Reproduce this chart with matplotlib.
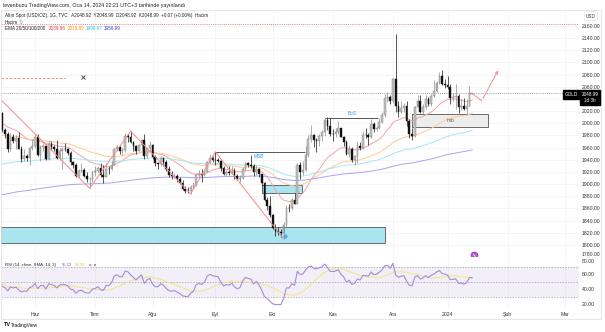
import numpy as np
import pandas as pd
import matplotlib
matplotlib.use('Agg')
import matplotlib.pyplot as plt
from matplotlib.patches import Rectangle

plt.rcParams['font.family'] = ['Liberation Sans', 'DejaVu Sans']

# daily OHLC, 15 May 2023 .. 15 Jan 2024
opens = [2011, 2017, 1989, 1982, 1958, 1978, 1971, 1975, 1958, 1941,
         1946, 1943, 1959, 1963, 1978, 1948, 1961, 1963, 1941, 1966,
         1961, 1957, 1943, 1955, 1958, 1957, 1951, 1936, 1932, 1913,
         1921, 1923, 1913, 1908, 1909, 1919, 1921, 1926, 1915, 1911,
         1925, 1924, 1932, 1957, 1961, 1955, 1956, 1979, 1977, 1969,
         1962, 1955, 1965, 1972, 1946, 1959, 1965, 1944, 1934, 1933,
         1943, 1937, 1925, 1915, 1913, 1914, 1908, 1902, 1892, 1889,
         1888, 1895, 1899, 1915, 1917, 1915, 1920, 1937, 1943, 1940,
         1939, 1938, 1926, 1916, 1919, 1918, 1922, 1913, 1908, 1910,
         1924, 1934, 1931, 1930, 1919, 1925, 1916, 1901, 1874, 1864,
         1849, 1828, 1822, 1821, 1820, 1833, 1861, 1860, 1874, 1868,
         1932, 1920, 1923, 1947, 1974, 1981, 1973, 1971, 1979, 1985,
         2006, 1996, 1983, 1982, 1985, 1992, 1978, 1969, 1950, 1958,
         1940, 1946, 1963, 1959, 1981, 1980, 1978, 1999, 1990, 1992,
         2002, 2014, 2041, 2044, 2036, 2072, 2029, 2019, 2025, 2028,
         2004, 1982, 1979, 2027, 2036, 2019, 2027, 2040, 2031, 2045,
         2053, 2067, 2077, 2065, 2063, 2059, 2041, 2043, 2045, 2027,
         2028, 2024, 2029, 2048.92]
highs = [2022, 2019, 1993, 1985, 1984, 1983, 1980, 1985, 1963, 1957,
         1950, 1961, 1974, 1983, 1983, 1965, 1967, 1966, 1972, 1970,
         1964, 1972, 1959, 1961, 1968, 1960, 1954, 1938, 1934, 1925,
         1934, 1927, 1919, 1912, 1922, 1930, 1929, 1935, 1931, 1935,
         1930, 1938, 1960, 1964, 1963, 1960, 1984, 1983, 1987, 1970,
         1964, 1966, 1974, 1982, 1960, 1970, 1966, 1947, 1937, 1946,
         1944, 1939, 1929, 1922, 1918, 1916, 1911, 1906, 1896, 1895,
         1899, 1903, 1918, 1923, 1924, 1923, 1938, 1949, 1946, 1953,
         1943, 1940, 1929, 1923, 1929, 1930, 1926, 1917, 1915, 1928,
         1937, 1937, 1947, 1933, 1931, 1926, 1917, 1903, 1879, 1880,
         1850, 1835, 1829, 1826, 1837, 1865, 1867, 1877, 1885, 1934,
         1937, 1938, 1962, 1980, 1997, 1982, 1975, 1983, 1989, 2009,
         2010, 2008, 1990, 1993, 2004, 1993, 1979, 1972, 1964, 1961,
         1947, 1971, 1969, 1987, 1993, 1984, 2007, 2002, 1996, 2009,
         2018, 2048, 2052, 2047, 2075, 2146, 2037, 2036, 2033, 2036,
         2007, 1993, 2029, 2047, 2047, 2032, 2047, 2043, 2048, 2071,
         2070, 2084, 2088, 2073, 2078, 2065, 2050, 2064, 2048, 2040,
         2041, 2040, 2062, 2048.99]
lows = [2008, 1985, 1975, 1952, 1954, 1967, 1958, 1957, 1936, 1938,
        1938, 1932, 1956, 1960, 1946, 1938, 1954, 1940, 1940, 1956,
        1954, 1942, 1939, 1925, 1954, 1947, 1931, 1926, 1912, 1910,
        1919, 1911, 1903, 1893, 1903, 1913, 1919, 1912, 1902, 1911,
        1917, 1923, 1931, 1955, 1950, 1948, 1952, 1969, 1967, 1955,
        1949, 1954, 1956, 1942, 1943, 1955, 1941, 1929, 1925, 1929,
        1930, 1922, 1912, 1909, 1910, 1903, 1900, 1891, 1885, 1885,
        1884, 1893, 1896, 1910, 1904, 1914, 1919, 1935, 1937, 1931,
        1936, 1922, 1915, 1914, 1915, 1916, 1908, 1906, 1901, 1908,
        1922, 1928, 1926, 1913, 1915, 1912, 1897, 1872, 1858, 1846,
        1826, 1815, 1816, 1813, 1810, 1830, 1854, 1858, 1867, 1868,
        1908, 1915, 1922, 1944, 1969, 1961, 1953, 1962, 1970, 1979,
        1989, 1979, 1970, 1978, 1983, 1977, 1963, 1947, 1945, 1937,
        1931, 1935, 1956, 1957, 1975, 1965, 1975, 1985, 1988, 1990,
        2001, 2011, 2035, 2031, 2034, 2018, 2010, 2017, 2018, 1995,
        1976, 1973, 1977, 2026, 2017, 2015, 2024, 2028, 2029, 2044,
        2052, 2064, 2063, 2058, 2056, 2031, 2037, 2024, 2017, 2022,
        2021, 2013, 2028, 2048.92]
closes = [2017, 1989, 1982, 1958, 1978, 1971, 1975, 1958, 1941, 1946,
          1943, 1959, 1963, 1978, 1948, 1961, 1963, 1941, 1966, 1961,
          1957, 1943, 1955, 1958, 1957, 1951, 1936, 1932, 1913, 1921,
          1923, 1913, 1908, 1909, 1919, 1921, 1926, 1915, 1911, 1925,
          1924, 1932, 1957, 1961, 1955, 1956, 1979, 1977, 1969, 1962,
          1955, 1965, 1972, 1946, 1959, 1965, 1944, 1934, 1933, 1943,
          1937, 1925, 1915, 1913, 1914, 1908, 1902, 1892, 1889, 1888,
          1895, 1899, 1915, 1917, 1915, 1920, 1937, 1943, 1940, 1939,
          1938, 1926, 1916, 1919, 1918, 1922, 1913, 1908, 1910, 1924,
          1934, 1931, 1930, 1919, 1925, 1916, 1901, 1874, 1864, 1849,
          1828, 1822, 1821, 1820, 1833, 1861, 1860, 1874, 1868, 1932,
          1920, 1923, 1947, 1974, 1981, 1973, 1971, 1979, 1985, 2006,
          1996, 1983, 1982, 1985, 1992, 1978, 1969, 1950, 1958, 1940,
          1946, 1963, 1959, 1981, 1980, 1978, 1999, 1990, 1992, 2002,
          2014, 2041, 2044, 2036, 2072, 2029, 2019, 2025, 2028, 2004,
          1982, 1979, 2027, 2036, 2019, 2027, 2040, 2031, 2045, 2053,
          2067, 2077, 2065, 2063, 2059, 2041, 2043, 2045, 2027, 2028,
          2024, 2029, 2049, 2048.99]

# EMA start levels carried in from before the first bar
ema_periods = [20, 50, 100, 200]
ema_seeds = [1998, 1978, 1930, 1880]
ema_colors = ['#f7a1a1', '#ffc999', '#a5e8f2', '#a9a3f0']
ema_text_colors = ['#f23645', '#ff9800', '#22c4e0', '#3d3dd6']
ema_labels = ['2039.96', '2019.89', '1998.67', '1956.99']

rsi_seed_gain, rsi_seed_loss = 8.0, 8.5
rsi_labels = ['55.12', '54.95']

month_names = {6: 'Haz', 7: 'Tem', 8: 'Ağu', 9: 'Eyl', 10: 'Eki', 11: 'Kas',
               12: 'Ara', 1: '2024', 2: 'Şub', 3: 'Mar'}

# swing pivots joined by the zigzag
zz_start = (-2, 2050)
zz_bars = [33, 48, 70, 79, 104]
zz_kind = ['L', 'H', 'L', 'H', 'L']
proj_bars = [173, 176.5, 183]
proj_prices = [2049, 2037, 2091]

W, H = 605, 332
fig = plt.figure(figsize=(W / 100, H / 100), dpi=100)
fig.patch.set_facecolor('white')


def box(x0, y0, x1, y1):
    return [x0 / W, 1 - y1 / H, (x1 - x0) / W, (y1 - y0) / H]


ax = fig.add_axes(box(1, 12, 579, 257))
ax_rsi = fig.add_axes(box(1, 257, 579, 308), sharex=ax)

n = len(closes)
x = np.arange(n)
o = np.array(opens, float)
h = np.array(highs, float)
l = np.array(lows, float)
c = np.array(closes, float)

dates = pd.bdate_range('2023-05-15', '2024-03-29')
dates = dates[~dates.isin(pd.to_datetime(['2023-12-25', '2024-01-01']))]
mpos = [i for i in range(1, len(dates)) if dates[i].month != dates[i - 1].month]
mlab = [month_names[dates[i].month] for i in mpos]

for a in (ax, ax_rsi):
    for s in a.spines.values():
        s.set_visible(False)
    a.set_facecolor('white')
    a.yaxis.tick_right()
    a.tick_params(length=0, labelsize=3.7, labelcolor='#333333', pad=2.2)
    a.set_xticks(mpos)
    a.grid(color='#f1f2f6', lw=0.5)
    a.set_axisbelow(True)
ax.tick_params(labelbottom=False)
ax_rsi.set_xticklabels(mlab)
ax_rsi.tick_params(axis='x', pad=3)
ax.set_xlim(0.55, 212.1)

# price scale (the 2040 label sits under the last-price tag)
ax.set_ylim(1780, 2183)
pt = list(range(1780, 2161, 20))
ax.set_yticks(pt)
ax.set_yticklabels(['' if v == 2040 else f'{v:.2f}' for v in pt])
ax.get_yticklabels()[0].set_verticalalignment('bottom')

# zones
ax.add_patch(Rectangle((0.5, 1803), 140.6, 26, fc='#a9e5ee', ec='#555555', lw=0.6, zorder=1))
ax.add_patch(Rectangle((96.1, 1885), 14.6, 13.5, fc='#a9e5ee', ec='#555555', lw=0.6, zorder=1))
ax.add_patch(Rectangle((151, 1994), 27.8, 21, fc='#ededed', ec='#555555', lw=0.6, zorder=1))
ax.text(165, 2004.5, 'imb', fontsize=3.4, color='#555555', ha='center', va='center', zorder=6)

# EMAs
for per, seed, col in zip(ema_periods, ema_seeds, ema_colors):
    k = 2 / (per + 1)
    prev = seed
    vals = []
    for v in c:
        prev = prev + k * (v - prev)
        vals.append(prev)
    ax.plot(x, vals, color=col, lw=0.7, zorder=2)

# candles
up = c >= o
ax.vlines(x[up], l[up], h[up], color='#8c8c8c', lw=0.5, zorder=3)
ax.vlines(x[~up], l[~up], h[~up], color='#111111', lw=0.5, zorder=3)
body = np.maximum(np.abs(c - o), 0.6)
ax.bar(x[up], body[up], bottom=np.minimum(o, c)[up], width=0.62,
       color='#c4c4c4', edgecolor='#7a7a7a', lw=0.3, zorder=4)
ax.bar(x[~up], body[~up], bottom=np.minimum(o, c)[~up], width=0.62,
       color='#111111', edgecolor='#111111', lw=0.3, zorder=4)

# structure lines
ax.hlines(highs[79], 79, 111.8, color='#555555', lw=0.7, zorder=5)
ax.text(95, 1945, 'MSB', fontsize=3.4, color='#2196f3', ha='center', va='center', zorder=6)
ax.hlines(highs[119], 119, 138.5, color='#555555', lw=0.7, zorder=5)
ax.text(129, 2016, 'BoS', fontsize=3.4, color='#2196f3', ha='center', va='center', zorder=6)
ax.plot(104.5, 1814, 'o', ms=2, color='#42a5f5', alpha=0.8, zorder=6)

zx = [zz_start[0]] + zz_bars
zy = [zz_start[1]] + [highs[b] if k == 'H' else lows[b] for b, k in zip(zz_bars, zz_kind)]
ax.plot(zx, zy, color='#f58a8a', lw=0.7, zorder=5)

ax.plot(proj_bars[:2], proj_prices[:2], color='#f58a8a', lw=0.7, zorder=5)
ax.annotate('', xy=(proj_bars[2], proj_prices[2]), xytext=(proj_bars[1], proj_prices[1]),
            arrowprops=dict(arrowstyle='->', color='#f58a8a', lw=0.7, mutation_scale=5), zorder=5)

ax.axhline(2163, color='#f77b7b', lw=0.7, ls=(0, (1, 1.2)), zorder=2)
ax.axhline(closes[-1], color='#999999', lw=0.7, ls=(0, (1, 1.2)), zorder=2)
ax.hlines(2075, 0.5, 24, color='#f77b7b', lw=0.6, ls=(0, (3, 2)), zorder=2)
ax.plot(30.6, 2076, 'x', ms=2.2, mew=0.6, color='#333333', zorder=5)
ax.plot(173.7, 1784, 'o', ms=5, mfc='#b05fd0', mec='#9c27b0', mew=0.5, clip_on=False, zorder=6)
ax.plot(173.7, 1784, marker=(2, 0, 45), ms=2.2, mew=0.6, color='white', clip_on=False, zorder=7)

# RSI pane
d = np.diff(c, prepend=o[0])
ag, al = rsi_seed_gain, rsi_seed_loss
rsi = []
for v in d:
    ag = (ag * 13 + max(v, 0)) / 14
    al = (al * 13 + max(-v, 0)) / 14
    rsi.append(100 - 100 / (1 + ag / al))
rsi_ma = pd.Series(rsi).rolling(14, min_periods=1).mean()

ax_rsi.set_ylim(15.3, 83.3)
ax_rsi.set_yticks([20, 40, 60, 80])
ax_rsi.set_yticklabels(['20.00', '40.00', '60.00', '80.00'])
ax_rsi.get_yticklabels()[-1].set_verticalalignment('top')
ax_rsi.grid(axis='y', visible=False)
ax_rsi.axhspan(30, 70, color='#7e57c2', alpha=0.09, lw=0)
for lv in (70, 50, 30):
    ax_rsi.axhline(lv, color='#9a9aa6', lw=0.5, ls=(0, (2, 2)))
ax_rsi.plot(x, rsi_ma, color='#f5e48c', lw=0.8)
ax_rsi.plot(x, rsi, color='#a68ad8', lw=0.8)


def ftext(px, py, s, **kw):
    kw.setdefault('fontsize', 3.3)
    kw.setdefault('color', '#222222')
    return fig.text(px / W, 1 - py / H, s, va='center', **kw)


# frame
fig.add_artist(Rectangle((0.5 / W, 1 - 319 / H), 600 / W, 309 / H, transform=fig.transFigure,
                         fill=False, ec='#e3e3e3', lw=0.6))

ftext(3, 5, 'levenbuzu TradingView.com, Oca 14, 2024 22:21 UTC+3 tarihinde yayınlandı', fontsize=3.8)
ftext(5, 15.5, 'Altın Spot (USD/OZ), 1G, TVC   A2048.92  Y2048.99  D2048.92  K2048.99  +0.07 (+0.00%)  Hacim')
ftext(5, 22, 'Hacim')
ftext(20, 22, '0', color='#26a69a')
ftext(5, 29, 'EMA 20/50/100/200')
for px, s, col in zip([49, 68, 86, 104], ema_labels, ema_text_colors):
    ftext(px, 29, s, color=col)

ftext(5, 265, 'RSI (14, close, SMA, 14, 2)', fontsize=3.1)
ftext(62, 265, rsi_labels[0], fontsize=3.1, color='#7e57c2')
ftext(75, 265, rsi_labels[1], fontsize=3.1, color='#e5c73a')
ftext(89, 265, 'ø  ø', fontsize=3.1, color='#555555')

# last price tags
ftext(571.5, 94.5, 'GOLD', fontsize=3.3, color='white', ha='center',
      bbox=dict(boxstyle='square,pad=0.35', fc='black', ec='black'))
ftext(590, 97.5, f'{closes[-1]:.2f}\n1d 3h', fontsize=3.3, color='white', ha='center',
      linespacing=1.3, bbox=dict(boxstyle='square,pad=0.4', fc='black', ec='black'))
ftext(591, 16, 'USD', fontsize=3.3, color='#333333', ha='center',
      bbox=dict(boxstyle='round,pad=0.4', fc='white', ec='#dddddd', lw=0.4))

ftext(4, 325, 'TV', fontsize=4, fontweight='bold', color='#131722')
ftext(11, 325, 'TradingView', fontsize=3.5, color='#131722')

fig.savefig('out.png', dpi=100, facecolor='white')
